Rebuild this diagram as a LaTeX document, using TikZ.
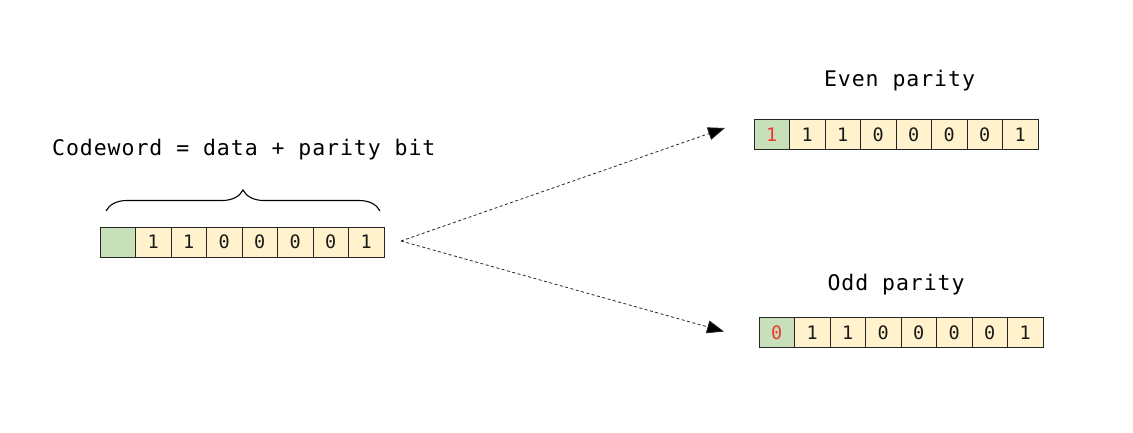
\documentclass[tikz,border=0pt]{standalone}
\usepackage{fontspec}
\newfontfamily\mono[LetterSpace=4.4]{DejaVu Sans Mono}
\newfontfamily\monod{DejaVu Sans Mono}
\usetikzlibrary{arrows.meta,decorations.pathreplacing}
\definecolor{cellg}{HTML}{C8E0BA}
\definecolor{celly}{HTML}{FFF2CC}
\definecolor{bitred}{HTML}{F03535}
\definecolor{ink}{HTML}{1A1A1A}
\tikzset{
  cell/.style={draw=black!85, line width=0.9pt, minimum width=35.5pt, minimum height=30pt,
    inner sep=0pt, outer sep=0pt, font=\monod\fontsize{18.5}{18.5}\selectfont, text=ink, anchor=west},
  pcell/.style={cell, fill=cellg},
  dcell/.style={cell, fill=celly},
  lbl/.style={font=\mono\fontsize{21.5}{22}\selectfont, text=black, inner sep=0pt},
  flow/.style={draw=black!85, line width=0.8pt, dash pattern=on 3pt off 2.5pt,
    -{Triangle[length=17pt,width=13pt,fill=black]}},
}
\begin{document}
\begin{tikzpicture}[x=1pt,y=-1pt]
\useasboundingbox (0,0) rectangle (1133,433);
% left register
\node[pcell] (L0) at (100,242) {};
\foreach \b [count=\i] in {1,1,0,0,0,0,1}{
  \pgfmathtruncatemacro{\prev}{\i-1}
  \node[dcell] (L\i) at (L\prev.east) {\b};
}
% even register
\node[pcell, text=bitred] (E0) at (754,134.7) {1};
\foreach \b [count=\i] in {1,1,0,0,0,0,1}{
  \pgfmathtruncatemacro{\prev}{\i-1}
  \node[dcell] (E\i) at (E\prev.east) {\b};
}
% odd register
\node[pcell, text=bitred] (O0) at (759,332.5) {0};
\foreach \b [count=\i] in {1,1,0,0,0,0,1}{
  \pgfmathtruncatemacro{\prev}{\i-1}
  \node[dcell] (O\i) at (O\prev.east) {\b};
}
% labels
\node[lbl, anchor=base west] (cw) at (52,156) {Codeword = data + parity bit};
\node[lbl, anchor=base] (ev) at (899.5,86.5) {Even parity};
\node[lbl, anchor=base] (od) at (896,290) {Odd parity};
% brace
\coordinate (bl) at (106,211);
\coordinate (br) at (380,211);
\draw[line width=1.1pt, decorate, decoration={brace, amplitude=21pt}] (bl) -- (br);
% arrows
\coordinate (src) at (401,241);
\coordinate (evtip) at (725,128);
\coordinate (odtip) at (724,331.5);
\draw[flow] (src) -- (evtip);
\draw[flow] (src) -- (odtip);
\end{tikzpicture}
\end{document}
